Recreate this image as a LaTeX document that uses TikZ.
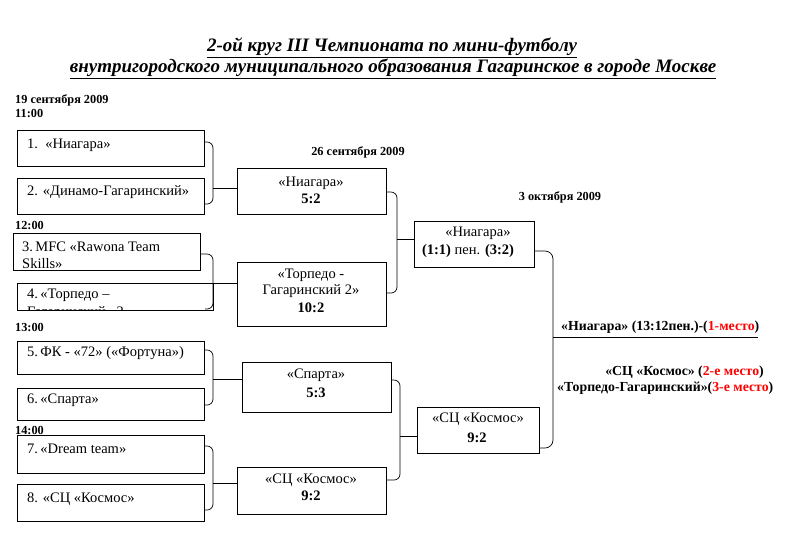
\documentclass[tikz,border=0pt]{standalone}
\usepackage{fontspec}
\setmainfont{Liberation Serif}
\usetikzlibrary{calc}
\begin{document}
\begin{tikzpicture}[x=1pt,y=-1pt,
  box/.style={draw, line width=0.8pt, inner sep=0pt, outer sep=0pt, anchor=north west},
  brk/.style={draw, line width=0.7pt, rounded corners=6pt},
  stem/.style={draw, line width=0.7pt},
  lt/.style={anchor=west, inner sep=0pt, font=\fontsize{14.5}{16}\selectfont},
  ct/.style={anchor=center, inner sep=0pt, font=\fontsize{14.5}{16}\selectfont},
  sc/.style={anchor=center, inner sep=0pt, font=\fontsize{14.5}{16}\selectfont\bfseries},
  dt/.style={anchor=west, inner sep=0pt, font=\fontsize{12.3}{14}\selectfont\bfseries},
  ft/.style={inner sep=0pt, font=\fontsize{13.8}{16}\selectfont\bfseries},
  tt/.style={inner sep=0pt, font=\fontsize{19}{22}\selectfont\bfseries\itshape},
]
\useasboundingbox[fill=white] (0,0) rectangle (800,550);

% title
\node[tt] (t1) at (392,48) {\underline{2-ой круг III Чемпионата по мини-футболу}};
\node[tt] (t2) at (393,69) {\underline{внутригородского муниципального образования Гагаринское в городе Москве}};

% dates
\node[dt] (d1) at (15,100) {19 сентября 2009};
\node[dt] (d2) at (15,113) {11:00};
\node[dt] (d3) at (15,225) {12:00};
\node[dt] (d4) at (15,327) {13:00};
\node[dt] (d5) at (15,430) {14:00};
\node[dt,anchor=center] (d6) at (358,152) {26 сентября 2009};
\node[dt,anchor=center] (d7) at (560,197) {3 октября 2009};

% first round boxes
\node[box, minimum width=187pt, minimum height=36pt] (b1) at (17,130) {};
\node[box, minimum width=187pt, minimum height=36pt] (b2) at (17,178) {};
\node[box, minimum width=187pt, minimum height=37pt] (b3) at (13,233) {};
\node[box, minimum width=196pt, minimum height=27pt] (b4) at (17,283) {};
\node[box, minimum width=187pt, minimum height=33pt] (b5) at (17,341) {};
\node[box, minimum width=187pt, minimum height=32pt] (b6) at (17,388) {};
\node[box, minimum width=187pt, minimum height=38pt] (b7) at (17,435) {};
\node[box, minimum width=187pt, minimum height=37pt] (b8) at (17,484) {};

\node[lt] (n1) at (27,145) {1.\ \ «Ниагара»};
\node[lt] (n2) at (27,192) {2. «Динамо-Гагаринский»};
\begin{scope}
  \clip (b3.north west) rectangle (b3.south east);
  \node[lt] (n3a) at (22,247) {3.\,MFC «Rawona Team};
  \node[lt] (n3b) at (22,264) {Skills»};
\end{scope}
\begin{scope}
  \clip (b4.north west) rectangle (b4.south east);
  \node[lt] (n4a) at (27,295) {4.\,«Торпедо –};
  \node[lt] (n4b) at (27,313) {Гагаринский» 2.};
\end{scope}
\node[lt] (n5) at (27,353) {5.\,ФК - «72» («Фортуна»)};
\node[lt] (n6) at (27,400) {6.\,«Спарта»};
\node[lt] (n7) at (27,449) {7.\,«Dream team»};
\node[lt] (n8) at (27,499) {8. «СЦ «Космос»};

% second round boxes
\node[box, minimum width=149pt, minimum height=46pt] (m1) at (237,168) {};
\node[box, minimum width=149pt, minimum height=64pt] (m2) at (237,262) {};
\node[box, minimum width=149pt, minimum height=50pt] (m3) at (242,362) {};
\node[box, minimum width=149pt, minimum height=47pt] (m4) at (237,467) {};

\node[ct] (m1a) at (311,183) {«Ниагара»};
\node[sc] (m1b) at (311,199) {5:2};
\node[ct] (m2a) at (311,275) {«Торпедо -};
\node[ct] (m2b) at (311,291) {Гагаринский 2»};
\node[sc] (m2c) at (311,308) {10:2};
\node[ct] (m3a) at (316,375) {«Спарта»};
\node[sc] (m3b) at (316,393) {5:3};
\node[ct] (m4a) at (311,480) {«СЦ «Космос»};
\node[sc] (m4b) at (311,496) {9:2};

% semifinal boxes
\node[box, minimum width=120pt, minimum height=46pt] (f1) at (414,221) {};
\node[box, minimum width=122pt, minimum height=46pt] (f2) at (417,407) {};

\node[ct] (f1a) at (478,233) {«Ниагара»};
\node[ct] (f1b) at (468,251) {\textbf{(1:1)} пен. \textbf{(3:2)}};
\node[ct] (f2a) at (478,419) {«СЦ «Космос»};
\node[sc] (f2b) at (477,438) {9:2};

% brackets round 1
\coordinate (xa) at (213,0);
\coordinate (b4end) at (205,309);
\draw[brk] (b1.east |- 0,142) -- (xa |- 0,142) -- (xa |- 0,204) -- (b2.east |- 0,204);
\draw[stem] (xa |- 0,188) -- (m1.west |- 0,188);
\draw[brk] (b3.east |- 0,254) -- (xa |- 0,254) -- (xa |- 0,309) -- (b4end);
\draw[stem] (xa |- 0,283) -- (m2.west |- 0,283);
\draw[brk] (b5.east |- 0,350) -- (xa |- 0,350) -- (xa |- 0,405) -- (b6.east |- 0,405);
\draw[stem] (xa |- 0,379) -- (m3.west |- 0,379);
\draw[brk] (b7.east |- 0,446) -- (xa |- 0,446) -- (xa |- 0,510) -- (b8.east |- 0,510);
\draw[stem] (xa |- 0,483) -- (m4.west |- 0,483);

% brackets round 2
\coordinate (xb) at (397,0);
\draw[brk] (m1.east |- 0,192) -- (xb |- 0,192) -- (xb |- 0,293) -- (m2.east |- 0,293);
\draw[stem] (xb |- 0,239) -- (f1.west |- 0,239);
\coordinate (xc) at (400,0);
\draw[brk] (m3.east |- 0,380) -- (xc |- 0,380) -- (xc |- 0,480) -- (m4.east |- 0,480);
\draw[stem] (xc |- 0,436) -- (f2.west |- 0,436);

% final bracket
\coordinate (xd) at (553,0);
\coordinate (win) at (758,337);
\draw[brk, rounded corners=8pt] (f1.east |- 0,251) -- (xd |- 0,251) -- (xd |- 0,448) -- (f2.east |- 0,448);
\draw[stem] (xd |- win) -- (win);

% results
\node[ft, anchor=west] (r1) at (561,327) {«Ниагара» (13:12пен.)-(\textcolor{red}{1-место})};
\node[ft, anchor=east] (r2) at (764,372) {«СЦ «Космос» (\textcolor{red}{2-е место})};
\node[ft, anchor=west] (r3) at (557,388) {«Торпедо-Гагаринский»(\textcolor{red}{3-е место})};
\end{tikzpicture}
\end{document}
